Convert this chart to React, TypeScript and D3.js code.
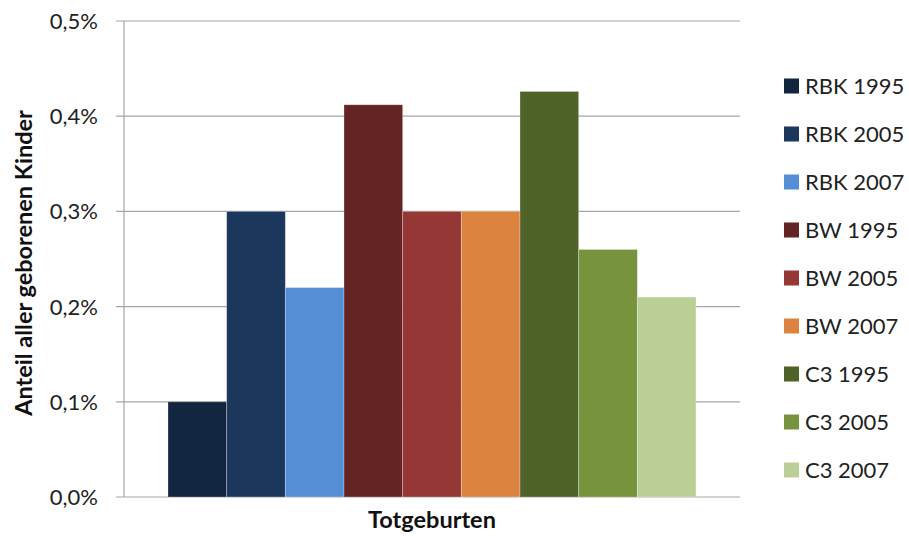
import React from "react";
import * as d3 from "d3";

const categories = ["Totgeburten"];
const seriesNames = ["RBK 1995", "RBK 2005", "RBK 2007", "BW 1995", "BW 2005", "BW 2007", "C3 1995", "C3 2005", "C3 2007"];
const seriesValues = [0.1, 0.3, 0.22, 0.412, 0.3, 0.3, 0.426, 0.26, 0.21];
const seriesColors = ["#12263f", "#1b375c", "#558ed5", "#632423", "#953735", "#dc8340", "#4f6228", "#77933c", "#b9cf96"];
const yTicks = [0, 0.1, 0.2, 0.3, 0.4, 0.5];
const yTitle = "Anteil aller geborenen Kinder";

const W = 909, H = 536;
const left = 124, right = 740, top = 21, bottom = 497;
const font = "Lato, 'Open Sans', sans-serif";

export default function App() {
  const y = d3.scaleLinear().domain([0, 0.5]).range([bottom, top]);
  const x0 = d3.scaleBand().domain(categories).range([left, right]).paddingInner(0).paddingOuter(0);
  const bw = x0.bandwidth();
  const groupW = bw / (1 + 1.5 / seriesNames.length);
  const x1 = d3.scaleBand().domain(seriesNames).range([0, groupW]).padding(0);
  const gx = (x0(categories[0]) as number) + (bw - groupW) / 2;
  const legendY = d3.scalePoint().domain(seriesNames).range([86, 470]);
  const fmt = (v: number) => v.toFixed(1).replace(".", ",") + "%";
  return (
    <div style={{ position: "absolute", left: 0, top: 0 }}>
      <svg width={W} height={H} style={{ display: "block", background: "#fff" }}>
        {yTicks.map((t) => (
          <g key={t}>
            <line x1={left - 8} x2={right} y1={y(t)} y2={y(t)} stroke="#a6a6a6" strokeWidth={1.2} />
            <text x={98} y={y(t)} dy="0.36em" textAnchor="end" fontFamily={font} fontSize={22} fill="#222">{fmt(t)}</text>
          </g>
        ))}
        <line x1={left} x2={left} y1={top} y2={bottom} stroke="#a6a6a6" strokeWidth={1.2} />
        {seriesNames.map((s, i) => (
          <rect key={s} x={gx + (x1(s) as number)} y={y(seriesValues[i])} width={x1.bandwidth()} height={bottom - y(seriesValues[i])} fill={seriesColors[i]} stroke="#ffffff" strokeOpacity={0.35} strokeWidth={0.8} />
        ))}
        <text x={gx + groupW / 2} y={520} dy="0.36em" textAnchor="middle" fontFamily={font} fontWeight="bold" fontSize={23.5} fill="#111">{categories[0]}</text>
        <text transform={`translate(24,${263}) rotate(-90)`} dy="0.36em" textAnchor="middle" fontFamily={font} fontWeight="bold" fontSize={23.5} fill="#111">{yTitle}</text>
        {seriesNames.map((s, i) => (
          <g key={s} transform={`translate(0,${legendY(s)})`}>
            <rect x={784} y={-7.5} width={15} height={15} fill={seriesColors[i]} />
            <text x={805} y={0} dy="0.36em" fontFamily={font} fontSize={22} fill="#222">{s}</text>
          </g>
        ))}
      </svg>
    </div>
  );
}
